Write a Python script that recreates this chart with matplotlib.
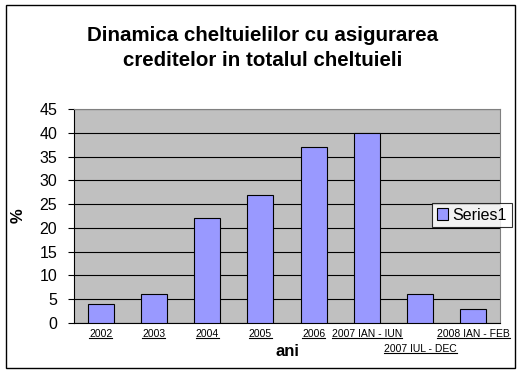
import numpy as np
import matplotlib.pyplot as plt
from matplotlib.patches import Rectangle
from matplotlib.lines import Line2D
from matplotlib.transforms import ScaledTranslation

plt.rcParams['font.family'] = ['Liberation Sans', 'DejaVu Sans']

categories = ["2002", "2003", "2004", "2005", "2006",
              "2007 IAN - IUN", "2007 IUL - DEC", "2008 IAN - FEB"]
values = [4, 6, 22, 27, 37, 40, 6, 3]
yticks = [0, 5, 10, 15, 20, 25, 30, 35, 40, 45]

fig = plt.figure(figsize=(5.23, 3.75), dpi=100)
# outer chart border
fig.patches.append(Rectangle((6/523, 1-368/375), 509/523, 363/375, transform=fig.transFigure,
                             fill=False, edgecolor="black", linewidth=1.0))

ax = fig.add_axes([74/523, 1-323/375, (500-74)/523, (323-109)/375])
ax.set_facecolor("#C0C0C0")

x = np.arange(len(categories))
ax.bar(x, values, width=0.49, color="#9999FF", edgecolor="black", linewidth=0.8,
       label="Series1", zorder=3)

ax.set_xlim(-0.5, len(categories) - 0.5)
ax.set_ylim(0, 45)
ax.set_yticks(yticks)
ax.yaxis.grid(True, color="black", linewidth=0.8, zorder=1)
ax.set_axisbelow(True)

ax.set_xticks(x)
ax.set_xticklabels(categories, fontsize=7.5)
ax.tick_params(axis="x", length=0, pad=4)
ax.tick_params(axis="y", length=4, labelsize=11.5, pad=8)
# second row for the long label
lab6 = ax.get_xticklabels()[6]
lab6.set_transform(lab6.get_transform() + ScaledTranslation(0, -15/100, fig.dpi_scale_trans))

for s in ["top", "right"]:
    ax.spines[s].set_color("#808080")
for s in ["left", "bottom"]:
    ax.spines[s].set_color("black")

ax.set_xlabel("ani", fontsize=12, fontweight="bold", va="center")
ax.xaxis.set_label_coords(0.5, -0.131)
ax.set_ylabel("%", fontsize=12, fontweight="bold", labelpad=10)

fig.text(263/523, 1-48/375, "Dinamica cheltuielilor cu asigurarea\ncreditelor in totalul cheltuieli",
         ha="center", va="center", fontsize=14.8, fontweight="bold", linespacing=1.35)

leg = ax.legend(loc="center left", bbox_to_anchor=(432/523, 1-215/375),
                bbox_transform=fig.transFigure, fontsize=11.5, frameon=True,
                fancybox=False, edgecolor="black", handlelength=0.7, handleheight=0.7,
                handletextpad=0.3, borderpad=0.3, borderaxespad=0)
leg.get_frame().set_linewidth(0.8)

# underline the category labels
fig.canvas.draw()
r = fig.canvas.get_renderer()
for lab in ax.get_xticklabels():
    bb = lab.get_window_extent(r)
    y0 = bb.y0 + 1
    fig.add_artist(Line2D([bb.x0 / 523, bb.x1 / 523], [y0 / 375, y0 / 375],
                          transform=fig.transFigure, color="black", linewidth=0.8))

fig.savefig("out.png", dpi=100)
